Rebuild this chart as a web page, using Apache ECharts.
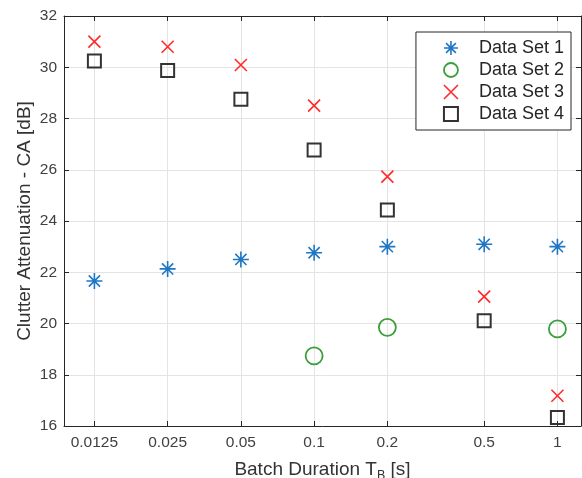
<!DOCTYPE html>
<html><head><meta charset="utf-8">
<script src="https://cdn.jsdelivr.net/npm/echarts@6/dist/echarts.min.js"></script>
<style>html,body{margin:0;padding:0;background:#fff}#c{width:582px;height:478px}</style>
</head><body><div id="c"></div>
<script>
const durations = [0.0125, 0.025, 0.05, 0.1, 0.2, 0.5, 1];
const xTickLabels = ['0.0125', '0.025', '0.05', '0.1', '0.2', '0.5', '1'];
const yTicks = [16, 18, 20, 22, 24, 26, 28, 30, 32];
const set1 = [21.66, 22.13, 22.5, 22.76, 23.0, 23.09, 23.0];
const set2 = [null, null, null, 18.74, 19.85, null, 19.79];
const set3 = [31.0, 30.8, 30.09, 28.5, 25.73, 21.05, 17.18];
const set4 = [30.24, 29.87, 28.75, 26.77, 24.43, 20.11, 16.33];
const seriesNames = ['Data Set 1', 'Data Set 2', 'Data Set 3', 'Data Set 4'];

const FONT = '"Liberation Sans", Arial, sans-serif';
const AX = '#262626';
const pair = arr => durations.map((d, i) => [d, arr[i]]).filter(p => p[1] != null);

const asterisk = 'path://M0,-1L0,1M-1,0L1,0M-0.7,-0.7L0.7,0.7M-0.7,0.7L0.7,-0.7';
const cross = 'path://M-1,-1L1,1M-1,1L1,-1';

const styles = [
  {symbol: asterisk, size: 16, color: '#1f77c4', width: 1.6},
  {symbol: 'circle', size: 17, color: '#3a9e3a', width: 1.8},
  {symbol: cross, size: 12, color: '#ff2a2a', width: 1.6},
  {symbol: 'rect', size: 13, color: '#333333', width: 2}
];
const datas = [set1, set2, set3, set4];

const chart = echarts.init(document.getElementById('c'));
const xCommon = {
  type: 'log', logBase: 10, min: 0.009375, max: 1.25,
  axisLine: {show: true, lineStyle: {color: AX, width: 1}},
  axisTick: {show: true, inside: true, length: 5, customValues: durations, lineStyle: {color: AX}},
  minorTick: {show: false}
};
const yCommon = {
  type: 'value', min: 16, max: 32, interval: 2,
  axisLine: {show: true, lineStyle: {color: AX, width: 1}},
  axisTick: {show: true, inside: true, length: 5, lineStyle: {color: AX}}
};
chart.setOption({
  animation: false,
  backgroundColor: '#fff',
  grid: {left: 64, top: 16, right: 1, bottom: 52, containLabel: false, outerBoundsMode: 'none'},
  legend: {
    orient: 'vertical', right: 11, top: 32,
    backgroundColor: '#fff', borderColor: AX, borderWidth: 1,
    padding: [7, 7, 7, 27], itemGap: 4, itemWidth: 14, itemHeight: 14,
    textStyle: {fontFamily: FONT, fontSize: 18, lineHeight: 17, color: '#262626', padding: [0, 0, 0, 16]},
    data: seriesNames.map((n, i) => ({name: n, icon: styles[i].symbol,
      itemStyle: {color: 'transparent', borderColor: styles[i].color, borderWidth: styles[i].width}}))
  },
  xAxis: [
    Object.assign({}, xCommon, {
      position: 'bottom',
      name: 'Batch Duration T{sub|B} [s]', nameLocation: 'middle', nameGap: 31, nameMoveOverlap: false,
      nameTextStyle: {fontFamily: FONT, fontSize: 19, color: '#333',
        rich: {sub: {fontFamily: FONT, fontSize: 12.5, color: '#333', padding: [12, 0, 0, 0]}}},
      axisLabel: {show: true, customValues: durations, margin: 9, fontFamily: FONT, fontSize: 15.5, color: '#404040',
        formatter: v => { const i = durations.findIndex(d => Math.abs(d - v) < 1e-9); return i >= 0 ? xTickLabels[i] : ''; }},
      splitLine: {show: true, lineStyle: {color: '#e4e4e4', width: 1}}
    }),
    Object.assign({}, xCommon, {position: 'top', axisLabel: {show: false}, splitLine: {show: false}})
  ],
  yAxis: [
    Object.assign({}, yCommon, {
      position: 'left',
      name: 'Clutter Attenuation - CA [dB]', nameLocation: 'middle', nameGap: 30, nameMoveOverlap: false,
      nameTextStyle: {fontFamily: FONT, fontSize: 19, color: '#333'},
      axisLabel: {margin: 7, fontFamily: FONT, fontSize: 15.5, color: '#404040', customValues: yTicks},
      splitLine: {show: true, lineStyle: {color: '#e4e4e4', width: 1}}
    }),
    Object.assign({}, yCommon, {position: 'right', axisLabel: {show: false}, splitLine: {show: false}})
  ],
  series: seriesNames.map((n, i) => ({
    name: n, type: 'scatter', xAxisIndex: 0, yAxisIndex: 0,
    symbol: styles[i].symbol, symbolSize: styles[i].size,
    itemStyle: {color: 'transparent', borderColor: styles[i].color, borderWidth: styles[i].width, opacity: 1},
    data: pair(datas[i])
  }))
});
</script></body></html>
